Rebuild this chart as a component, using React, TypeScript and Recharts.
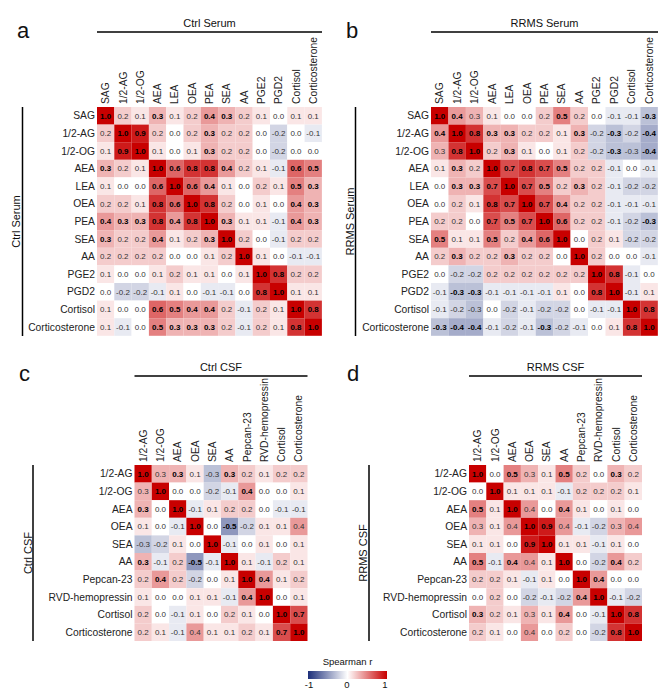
import React from 'react';
import { ScatterChart, Scatter, XAxis, YAxis } from 'recharts';

const FONT = '"Liberation Sans", Arial, sans-serif';

const serumLabels = ['SAG', '1/2-AG', '1/2-OG', 'AEA', 'LEA', 'OEA', 'PEA', 'SEA', 'AA', 'PGE2', 'PGD2', 'Cortisol', 'Corticosterone'];
const csfLabels = ['1/2-AG', '1/2-OG', 'AEA', 'OEA', 'SEA', 'AA', 'Pepcan-23', 'RVD-hemopressin', 'Cortisol', 'Corticosterone'];

// Spearman r, row by row
const ctrlSerum = [
  [1.0, 0.2, 0.1, 0.3, 0.1, 0.2, 0.4, 0.3, 0.2, 0.1, 0.0, 0.1, 0.1],
  [0.2, 1.0, 0.9, 0.2, 0.0, 0.2, 0.3, 0.2, 0.2, 0.0, -0.2, 0.0, -0.1],
  [0.1, 0.9, 1.0, 0.1, 0.0, 0.1, 0.3, 0.2, 0.2, 0.0, -0.2, 0.0, 0.0],
  [0.3, 0.2, 0.1, 1.0, 0.6, 0.8, 0.8, 0.4, 0.2, 0.1, -0.1, 0.6, 0.5],
  [0.1, 0.0, 0.0, 0.6, 1.0, 0.6, 0.4, 0.1, 0.0, 0.2, 0.1, 0.5, 0.3],
  [0.2, 0.2, 0.1, 0.8, 0.6, 1.0, 0.8, 0.2, 0.0, 0.1, 0.0, 0.4, 0.3],
  [0.4, 0.3, 0.3, 0.8, 0.4, 0.8, 1.0, 0.3, 0.1, 0.1, -0.1, 0.4, 0.3],
  [0.3, 0.2, 0.2, 0.4, 0.1, 0.2, 0.3, 1.0, 0.2, 0.0, -0.1, 0.2, 0.2],
  [0.2, 0.2, 0.2, 0.2, 0.0, 0.0, 0.1, 0.2, 1.0, 0.1, 0.0, -0.1, -0.1],
  [0.1, 0.0, 0.0, 0.1, 0.2, 0.1, 0.1, 0.0, 0.1, 1.0, 0.8, 0.2, 0.2],
  [0.0, -0.2, -0.2, -0.1, 0.1, 0.0, -0.1, -0.1, 0.0, 0.8, 1.0, 0.1, 0.1],
  [0.1, 0.0, 0.0, 0.6, 0.5, 0.4, 0.4, 0.2, -0.1, 0.2, 0.1, 1.0, 0.8],
  [0.1, -0.1, 0.0, 0.5, 0.3, 0.3, 0.3, 0.2, -0.1, 0.2, 0.1, 0.8, 1.0],
];
// significant cells (bold)
const ctrlSerumSig = [
  '1001001100000', '0110001000000', '0110001000000', '1001111100011', '0001111000011',
  '0001111000011', '1111111100011', '1001001100000', '0000000010000', '0000000001100',
  '0000000001100', '0001111000011', '0001111000011',
];

const rrmsSerum = [
  [1.0, 0.4, 0.3, 0.1, 0.0, 0.0, 0.2, 0.5, 0.2, 0.0, -0.1, -0.1, -0.3],
  [0.4, 1.0, 0.8, 0.3, 0.3, 0.2, 0.2, 0.1, 0.3, -0.2, -0.3, -0.2, -0.4],
  [0.3, 0.8, 1.0, 0.2, 0.3, 0.1, 0.0, 0.1, 0.2, -0.2, -0.3, -0.3, -0.4],
  [0.1, 0.3, 0.2, 1.0, 0.7, 0.8, 0.7, 0.5, 0.2, 0.2, -0.1, 0.0, -0.1],
  [0.0, 0.3, 0.3, 0.7, 1.0, 0.7, 0.5, 0.2, 0.3, 0.2, -0.1, -0.2, -0.2],
  [0.0, 0.2, 0.1, 0.8, 0.7, 1.0, 0.7, 0.4, 0.2, 0.2, -0.1, -0.1, -0.1],
  [0.2, 0.2, 0.0, 0.7, 0.5, 0.7, 1.0, 0.6, 0.2, 0.2, -0.1, -0.2, -0.3],
  [0.5, 0.1, 0.1, 0.5, 0.2, 0.4, 0.6, 1.0, 0.0, 0.2, 0.1, -0.2, -0.2],
  [0.2, 0.3, 0.2, 0.2, 0.3, 0.2, 0.2, 0.0, 1.0, 0.2, 0.0, 0.0, -0.1],
  [0.0, -0.2, -0.2, 0.2, 0.2, 0.2, 0.2, 0.2, 0.2, 1.0, 0.8, -0.1, 0.0],
  [-0.1, -0.3, -0.3, -0.1, -0.1, -0.1, -0.1, 0.1, 0.0, 0.8, 1.0, -0.1, 0.1],
  [-0.1, -0.2, -0.3, 0.0, -0.2, -0.1, -0.2, -0.2, 0.0, -0.1, -0.1, 1.0, 0.8],
  [-0.3, -0.4, -0.4, -0.1, -0.2, -0.1, -0.3, -0.2, -0.1, 0.0, 0.1, 0.8, 1.0],
];
const rrmsSerumSig = [
  '1100000100001', '1111100010101', '0110100000101', '0101111100000', '0111111010000',
  '0001111100000', '0001111100001', '1001011100000', '0100100010000', '0000000001100',
  '0110000001100', '0000000000011', '1110001000011',
];

const ctrlCsf = [
  [1.0, 0.3, 0.3, 0.1, -0.3, 0.3, 0.2, 0.1, 0.2, 0.2],
  [0.3, 1.0, 0.0, 0.0, -0.2, -0.1, 0.4, 0.0, 0.0, 0.1],
  [0.3, 0.0, 1.0, -0.1, 0.1, 0.2, 0.2, 0.0, -0.1, -0.1],
  [0.1, 0.0, -0.1, 1.0, 0.0, -0.5, -0.2, 0.1, 0.1, 0.4],
  [-0.3, -0.2, 0.1, 0.0, 1.0, -0.1, 0.0, 0.1, 0.0, 0.1],
  [0.3, -0.1, 0.2, -0.5, -0.1, 1.0, 0.1, -0.1, 0.2, 0.1],
  [0.2, 0.4, 0.2, -0.2, 0.0, 0.1, 1.0, 0.4, 0.1, 0.2],
  [0.1, 0.0, 0.0, 0.1, 0.1, -0.1, 0.4, 1.0, 0.0, 0.1],
  [0.2, 0.0, -0.1, 0.1, 0.0, 0.2, 0.1, 0.0, 1.0, 0.7],
  [0.2, 0.1, -0.1, 0.4, 0.1, 0.1, 0.2, 0.1, 0.7, 1.0],
];
const ctrlCsfSig = [
  '1010010000', '0100001000', '1010000000', '0001010000', '0000100000',
  '1001010000', '0100001100', '0000001100', '0000000011', '0000000011',
];

const rrmsCsf = [
  [1.0, 0.0, 0.5, 0.3, 0.1, 0.5, 0.2, 0.0, 0.3, 0.2],
  [0.0, 1.0, 0.1, 0.1, 0.1, -0.1, 0.2, 0.2, 0.2, 0.1],
  [0.5, 0.1, 1.0, 0.4, 0.0, 0.4, 0.1, 0.0, 0.1, 0.0],
  [0.3, 0.1, 0.4, 1.0, 0.9, 0.4, -0.1, -0.2, 0.3, 0.4],
  [0.1, 0.1, 0.0, 0.9, 1.0, 0.1, 0.1, -0.1, 0.1, 0.0],
  [0.5, -0.1, 0.4, 0.4, 0.1, 1.0, 0.0, -0.2, 0.4, 0.2],
  [0.2, 0.2, 0.1, -0.1, 0.1, 0.0, 1.0, 0.4, 0.0, 0.0],
  [0.0, 0.2, 0.0, -0.2, -0.1, -0.2, 0.4, 1.0, -0.1, -0.2],
  [0.3, 0.2, 0.1, 0.3, 0.1, 0.4, 0.0, -0.1, 1.0, 0.8],
  [0.2, 0.1, 0.0, 0.4, 0.0, 0.2, 0.0, -0.2, 0.8, 1.0],
];
const rrmsCsfSig = [
  '1010010010', '0100000000', '1010010000', '0001100000', '0001100000',
  '1010010010', '0000001100', '0000001100', '1000010011', '0000000011',
];

const legendTicks = [-1, 0, 1];

const RED = [200, 0, 0];
const NAVY = [29, 47, 122];

function colorFor(v: number) {
  const t = Math.min(1, Math.abs(v));
  const end = v >= 0 ? RED : NAVY;
  const c = end.map((e) => Math.round(255 + (e - 255) * t));
  return `rgb(${c[0]},${c[1]},${c[2]})`;
}

interface HeatmapProps {
  labels: string[];
  values: number[][];
  sig: string[];
  x0: number;
  y0: number;
  plotLeft: number;
  plotTop: number;
  cellW: number;
  cellH: number;
}

const Heatmap: React.FC<HeatmapProps> = ({ labels, values, sig, x0, y0, plotLeft, plotTop, cellW, cellH }) => {
  const n = labels.length;
  const axisW = plotLeft - x0;
  const axisH = plotTop - y0;
  const width = axisW + n * cellW + 4;
  const height = axisH + n * cellH + 4;
  const idx = labels.map((_, i) => i);

  const data = values.flatMap((row, r) =>
    row.map((v, c) => ({ c, r, v, bold: sig[r][c] === '1' }))
  );

  const cellShape = (p: any) => {
    const { cx, cy, payload } = p;
    return (
      <g>
        <rect x={cx - cellW / 2} y={cy - cellH / 2} width={cellW} height={cellH} fill={colorFor(payload.v)} />
        <text
          x={cx}
          y={cy}
          dy="0.35em"
          textAnchor="middle"
          fontSize={8}
          fontFamily={FONT}
          fontWeight={payload.bold ? 'bold' : 'normal'}
          fill={payload.bold ? '#000' : '#333'}
        >
          {payload.v.toFixed(1)}
        </text>
      </g>
    );
  };

  const xTick = (p: any) => {
    const { x, y, payload } = p;
    return (
      <text x={x} y={y} dy="0.35em" transform={`rotate(-90 ${x} ${y})`} textAnchor="start" fontSize={10.3} fontFamily={FONT} fill="#222">
        {labels[payload.value]}
      </text>
    );
  };

  const yTick = (p: any) => {
    const { x, y, payload } = p;
    return (
      <text x={x} y={y} dy="0.35em" textAnchor="end" fontSize={10.3} fontFamily={FONT} fill="#222">
        {labels[payload.value]}
      </text>
    );
  };

  return (
    <div style={{ position: 'absolute', left: x0, top: y0 }}>
      <ScatterChart width={width} height={height} margin={{ top: 0, left: 0, right: 4, bottom: 4 }}>
        <XAxis
          dataKey="c"
          type="number"
          orientation="top"
          domain={[-0.5, n - 0.5]}
          ticks={idx}
          interval={0}
          height={axisH}
          tick={xTick}
          tickLine={false}
          axisLine={false}
          tickSize={0}
          tickMargin={3}
        />
        <YAxis
          dataKey="r"
          type="number"
          reversed
          domain={[-0.5, n - 0.5]}
          ticks={idx}
          interval={0}
          width={axisW}
          tick={yTick}
          tickLine={false}
          axisLine={false}
          tickSize={0}
          tickMargin={2}
        />
        <Scatter data={data} shape={cellShape} isAnimationActive={false} />
      </ScatterChart>
    </div>
  );
};

const textStyle = { fontFamily: FONT, fill: '#111' };

export default function App() {
  const gradStops = [-1, -0.5, 0, 0.5, 1];
  return (
    <div style={{ position: 'absolute', left: 0, top: 0, width: 669, height: 695, background: '#fff' }}>
      <Heatmap labels={serumLabels} values={ctrlSerum} sig={ctrlSerumSig} x0={0} y0={0} plotLeft={97} plotTop={107} cellW={17.3} cellH={17.6} />
      <Heatmap labels={serumLabels} values={rrmsSerum} sig={rrmsSerumSig} x0={335} y0={0} plotLeft={431} plotTop={107} cellW={17.45} cellH={17.6} />
      <Heatmap labels={csfLabels} values={ctrlCsf} sig={ctrlCsfSig} x0={0} y0={370} plotLeft={134.5} plotTop={465} cellW={17.3} cellH={17.6} />
      <Heatmap labels={csfLabels} values={rrmsCsf} sig={rrmsCsfSig} x0={335} y0={370} plotLeft={469} plotTop={465} cellW={17.3} cellH={17.6} />

      <svg width={669} height={695} style={{ position: 'absolute', left: 0, top: 0, pointerEvents: 'none' }}>
        {/* panel letters */}
        <text x={17} y={38} fontSize={22} style={textStyle}>a</text>
        <text x={346} y={38} fontSize={22} style={textStyle}>b</text>
        <text x={19} y={381} fontSize={22} style={textStyle}>c</text>
        <text x={347} y={381} fontSize={22} style={textStyle}>d</text>

        {/* group titles */}
        <text x={209.5} y={27} fontSize={11} textAnchor="middle" style={textStyle}>Ctrl Serum</text>
        <line x1={97} x2={322} y1={32} y2={32} stroke="#000" strokeWidth={1.5} />
        <text x={544.5} y={27} fontSize={11} textAnchor="middle" style={textStyle}>RRMS Serum</text>
        <line x1={431} x2={658} y1={32} y2={32} stroke="#000" strokeWidth={1.5} />
        <text x={221} y={371} fontSize={11} textAnchor="middle" style={textStyle}>Ctrl CSF</text>
        <line x1={134.5} x2={307.5} y1={376} y2={376} stroke="#000" strokeWidth={1.5} />
        <text x={555.5} y={371} fontSize={11} textAnchor="middle" style={textStyle}>RRMS CSF</text>
        <line x1={469} x2={642} y1={376} y2={376} stroke="#000" strokeWidth={1.5} />

        {/* side labels */}
        <text x={16.5} y={221.5} dy="0.35em" fontSize={11} textAnchor="middle" transform="rotate(-90 16.5 221.5)" style={textStyle}>Ctrl Serum</text>
        <line x1={22.5} x2={22.5} y1={107} y2={336} stroke="#000" strokeWidth={1.5} />
        <text x={350} y={221.5} dy="0.35em" fontSize={11} textAnchor="middle" transform="rotate(-90 350 221.5)" style={textStyle}>RRMS Serum</text>
        <line x1={355.5} x2={355.5} y1={107} y2={336} stroke="#000" strokeWidth={1.5} />
        <text x={28} y={553} dy="0.35em" fontSize={11} textAnchor="middle" transform="rotate(-90 28 553)" style={textStyle}>Ctrl CSF</text>
        <line x1={33} x2={33} y1={465} y2={641} stroke="#000" strokeWidth={1.5} />
        <text x={363} y={553} dy="0.35em" fontSize={11} textAnchor="middle" transform="rotate(-90 363 553)" style={textStyle}>RRMS CSF</text>
        <line x1={369} x2={369} y1={465} y2={641} stroke="#000" strokeWidth={1.5} />

        {/* colour scale */}
        <defs>
          <linearGradient id="spearman" x1="0" x2="1" y1="0" y2="0">
            {gradStops.map((s) => (
              <stop key={s} offset={`${((s + 1) / 2) * 100}%`} stopColor={colorFor(s)} />
            ))}
          </linearGradient>
        </defs>
        <text x={347.5} y={665} fontSize={9.5} textAnchor="middle" style={textStyle}>Spearman r</text>
        <rect x={308} y={671} width={79} height={8} fill="url(#spearman)" />
        {legendTicks.map((t) => (
          <text key={t} x={309 + ((t + 1) / 2) * 76} y={688} fontSize={9.5} textAnchor="middle" style={textStyle}>
            {t}
          </text>
        ))}
      </svg>
    </div>
  );
}
